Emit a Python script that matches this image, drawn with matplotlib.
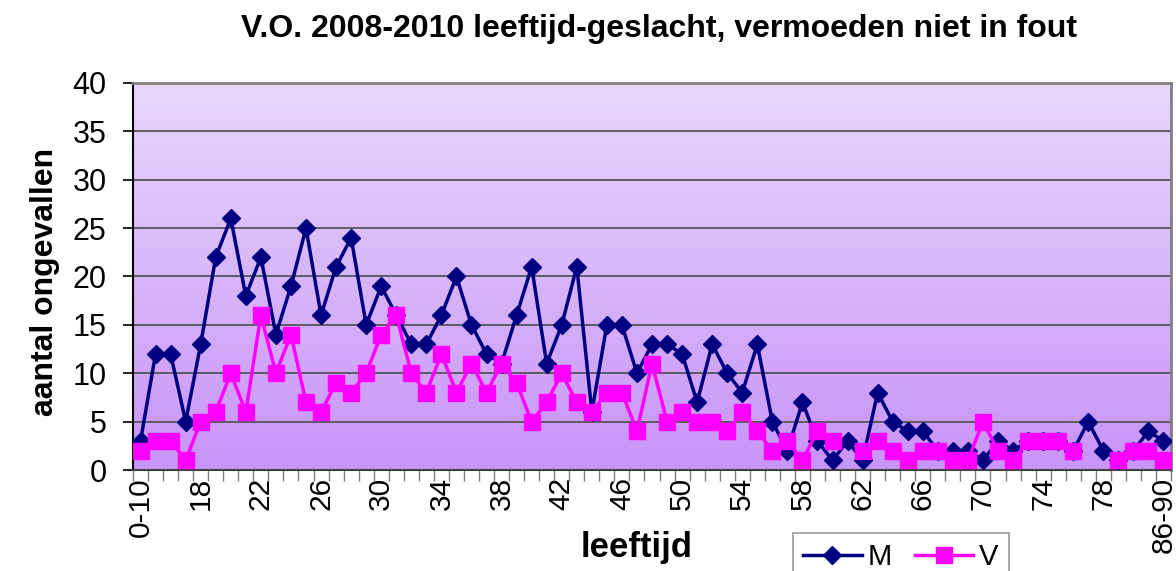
import numpy as np
import matplotlib
matplotlib.use("Agg")
import matplotlib.pyplot as plt
from matplotlib.lines import Line2D
from matplotlib.ticker import FixedLocator, NullFormatter

plt.rcParams['font.family'] = ['Liberation Sans', 'DejaVu Sans']

nan = np.nan
categories = (["0-10", "11-15", "16", "17"] + [str(a) for a in range(18, 79)]
              + ["79", "80", "81-85", "86-90"])
M = [3, 12, 12, 5, 13, 22, 26, 18, 22, 14, 19, 25, 16, 21, 24, 15, 19, 16, 13, 13,
     16, 20, 15, 12, 11, 16, 21, 11, 15, 21, 6, 15, 15, 10, 13, 13, 12, 7, 13, 10,
     8, 13, 5, 2, 7, 3, 1, 3, 1, 8, 5, 4, 4, 2, 2, 2, 1, 3, 2, 3,
     3, 3, 2, 5, 2, 1, 2, 4, 3]
V = [2, 3, 3, 1, 5, 6, 10, 6, 16, 10, 14, 7, 6, 9, 8, 10, 14, 16, 10, 8,
     12, 8, 11, 8, 11, 9, 5, 7, 10, 7, 6, 8, 8, 4, 11, 5, 6, 5, 5, 4,
     6, 4, 2, 3, 1, 4, 3, nan, 2, 3, 2, 1, 2, 2, 1, 1, 5, 2, 1, 3,
     3, 3, 2, nan, nan, 1, 2, 2, 1]
series_names = ["M", "V"]
title = "V.O. 2008-2010 leeftijd-geslacht, vermoeden niet in fout"
xlabel = "leeftijd"
ylabel = "aantal ongevallen"

W, H = 1176, 571
fig = plt.figure(figsize=(W / 100, H / 100), dpi=100)
left, right, top, bottom = 133, 1171, 83, 470
ax = fig.add_axes([left / W, 1 - bottom / H, (right - left) / W, (bottom - top) / H])

n = len(categories)
x = np.arange(n)

# gradient background
grad = np.linspace(0, 1, 256).reshape(-1, 1)
top_c = np.array([232, 216, 252]) / 255
bot_c = np.array([200, 148, 248]) / 255
img = top_c[None, None, :] * (1 - grad[:, :, None]) + bot_c[None, None, :] * grad[:, :, None]
ax.imshow(img, extent=[-0.5, n - 0.5, 0, 40], aspect='auto', origin='upper', zorder=0)

ax.set_xlim(-0.5, n - 0.5)
ax.set_ylim(0, 40)

for yv in range(5, 40, 5):
    ax.axhline(yv, color='#555555', lw=1.3, zorder=1)

ax.plot(x, M, color='#000080', lw=2.5, marker='D', markersize=9.5,
        markerfacecolor='#000080', markeredgecolor='#000080', zorder=3, label=series_names[0])
ax.plot(x, V, color='#FF00FF', lw=2.5, marker='s', markersize=12,
        markerfacecolor='#FF00FF', markeredgecolor='#FF00FF', zorder=4, label=series_names[1])

# y axis
ax.set_yticks(range(0, 41, 5))
ax.tick_params(axis='y', direction='out', length=7, width=1.2, color='black',
               labelsize=22, pad=12)
# x axis: ticks at category boundaries, labels every 4th
ax.xaxis.set_minor_locator(FixedLocator(np.arange(-0.5, n, 1)))
ax.xaxis.set_minor_formatter(NullFormatter())
lab_idx = list(range(0, n, 4))
ax.set_xticks(lab_idx)
ax.set_xticklabels([categories[i] for i in lab_idx], rotation=90)
ax.tick_params(axis='x', which='major', length=0, labelsize=21.5, pad=5)
ax.tick_params(axis='x', which='minor', direction='out', length=8, width=1, color='#808080')

for s in ['top', 'right']:
    ax.spines[s].set_color('#808080')
    ax.spines[s].set_linewidth(2)
ax.spines['left'].set_color('black')
ax.spines['left'].set_linewidth(1.5)
ax.spines['bottom'].set_color('#404040')
ax.spines['bottom'].set_linewidth(1.5)

fig.text(45 / W, 1 - 282 / H, ylabel, fontsize=23, fontweight='bold', rotation=90,
         ha='center', va='center')
fig.text(637 / W, 1 - 548 / H, xlabel, fontsize=25, fontweight='bold',
         ha='center', va='center')

fig.text(659 / W, 1 - 29 / H, title, fontsize=23, fontweight='bold', ha='center', va='center')

handles = [Line2D([], [], color='#000080', lw=2.5, marker='D', markersize=9.5),
           Line2D([], [], color='#FF00FF', lw=2.5, marker='s', markersize=12)]
leg = fig.legend(handles, series_names, loc='upper left', ncol=2,
                 bbox_to_anchor=(793 / W, 1 - 533 / H), fontsize=21, frameon=True,
                 fancybox=False, edgecolor='#808080', handlelength=2.0, columnspacing=0.8,
                 handletextpad=0.2, borderpad=0.35, borderaxespad=0)
leg.get_frame().set_linewidth(1.2)

fig.savefig("out.png", dpi=100)
